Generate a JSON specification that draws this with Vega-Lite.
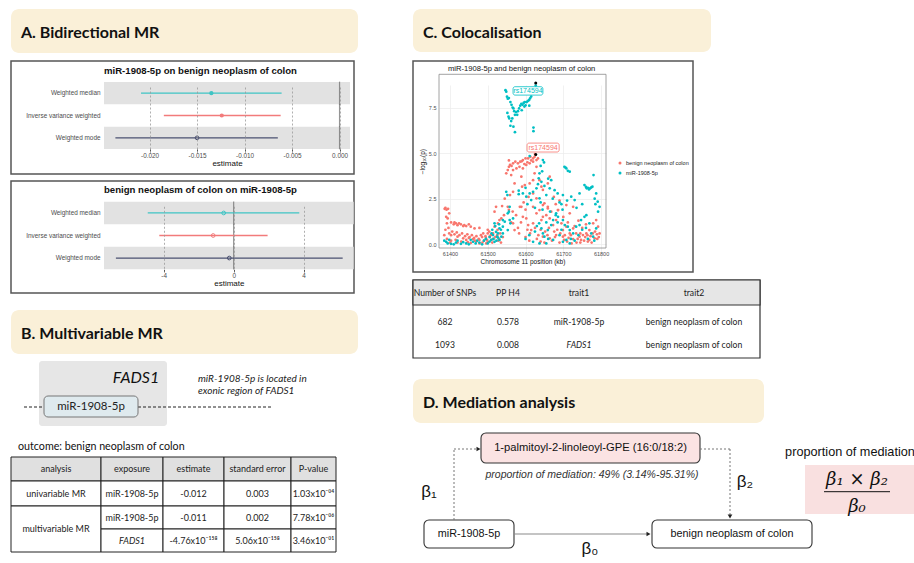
{
  "$schema": "https://vega.github.io/schema/vega-lite/v6.json",
  "background": "white",
  "padding": {"left": 10, "top": 9, "right": 0, "bottom": 0},
  "config": {"view": {"stroke": null}, "text": {"font": "Liberation Sans"}},
  "datasets": {
    "benign": [
      {"kb":61549,"p":3.89},{"kb":61553,"p":4.07},{"kb":61556,"p":4.25},{"kb":61559,"p":4.35},{"kb":61567,"p":4.44},{"kb":61573,"p":4.53},{"kb":61580,"p":4.44},{"kb":61586,"p":4.53},{"kb":61593,"p":4.62},{"kb":61600,"p":4.71},{"kb":61607,"p":4.71},{"kb":61613,"p":4.8},{"kb":61620,"p":4.71},{"kb":61624,"p":4.8},{"kb":61629,"p":4.62},{"kb":61633,"p":4.71},{"kb":61620,"p":4.53},{"kb":61611,"p":4.44},{"kb":61602,"p":4.35},{"kb":61593,"p":4.16},{"kb":61584,"p":4.25},{"kb":61576,"p":4.16},{"kb":61567,"p":4.07},{"kb":61562,"p":3.8},{"kb":61571,"p":3.34},{"kb":61567,"p":2.88},{"kb":61559,"p":2.7},{"kb":61589,"p":3.71},{"kb":61591,"p":3.16},{"kb":61598,"p":3.25},{"kb":61611,"p":3.34},{"kb":61620,"p":3.52},{"kb":61624,"p":3.89},{"kb":61629,"p":4.25},{"kb":61637,"p":3.52},{"kb":61642,"p":3.16},{"kb":61646,"p":2.98},{"kb":61659,"p":3.34},{"kb":61664,"p":3.71},{"kb":61620,"p":2.79},{"kb":61629,"p":2.52},{"kb":61650,"p":2.25},{"kb":61659,"p":2.06},{"kb":61556,"p":4.6},{"kb":61563,"p":4.3},{"kb":61590,"p":4.55},{"kb":61597,"p":4.4},{"kb":61605,"p":4.5},{"kb":61615,"p":4.6},{"kb":61625,"p":4.95},
      {"kb":61538,"p":2.1},{"kb":61545,"p":2.5},{"kb":61390,"p":1.51},{"kb":61394,"p":1.42},{"kb":61398,"p":1.7},{"kb":61392,"p":1.15},{"kb":61403,"p":1.2},{"kb":61416,"p":1.15},{"kb":61429,"p":1.1},{"kb":61443,"p":1.0},{"kb":61455,"p":0.97},{"kb":61465,"p":0.87},{"kb":61478,"p":0.9},{"kb":61500,"p":0.8},{"kb":61500,"p":0.6},{"kb":61518,"p":0.97},{"kb":61527,"p":1.15},{"kb":61531,"p":1.33},{"kb":61518,"p":1.79},{"kb":61522,"p":2.06},{"kb":61536,"p":1.42},{"kb":61543,"p":1.6},{"kb":61553,"p":2.06},{"kb":61556,"p":1.89},{"kb":61567,"p":1.15},{"kb":61571,"p":0.78},{"kb":61398,"p":0.6},{"kb":61403,"p":0.5},{"kb":61420,"p":0.42},{"kb":61435,"p":0.33},{"kb":61443,"p":0.24},{"kb":61461,"p":0.28},{"kb":61470,"p":0.15},{"kb":61478,"p":0.24},{"kb":61490,"p":0.2},{"kb":61505,"p":0.42},{"kb":61515,"p":0.3},{"kb":61403,"p":0.2},{"kb":61420,"p":0.1},{"kb":61447,"p":0.12},{"kb":61478,"p":0.05},{"kb":61500,"p":0.14},{"kb":61386,"p":1.95},{"kb":61388,"p":2.0},{"kb":61391,"p":1.9},{"kb":61395,"p":1.95},{"kb":61385,"p":0.5},{"kb":61410,"p":1.1},{"kb":61420,"p":1.05},{"kb":61435,"p":1.0},{"kb":61450,"p":0.35},{"kb":61485,"p":0.4},{"kb":61495,"p":0.35},{"kb":61510,"p":0.25},{"kb":61525,"p":0.5},{"kb":61530,"p":0.3},
      {"kb":61388,"p":0.8},{"kb":61396,"p":0.9},{"kb":61406,"p":0.7},{"kb":61412,"p":0.55},{"kb":61418,"p":0.65},{"kb":61425,"p":0.5},{"kb":61432,"p":0.6},{"kb":61440,"p":0.45},{"kb":61446,"p":0.55},{"kb":61452,"p":0.4},{"kb":61458,"p":0.5},{"kb":61464,"p":0.35},{"kb":61470,"p":0.45},{"kb":61476,"p":0.3},{"kb":61482,"p":0.5},{"kb":61488,"p":0.6},{"kb":61494,"p":0.45},{"kb":61498,"p":0.25},{"kb":61504,"p":0.7},{"kb":61508,"p":0.5},{"kb":61514,"p":0.6},{"kb":61520,"p":0.4},{"kb":61526,"p":0.8},{"kb":61533,"p":0.6},{"kb":61412,"p":1.2},{"kb":61424,"p":1.15},{"kb":61438,"p":1.05},{"kb":61450,"p":1.1},{"kb":61392,"p":0.3},{"kb":61400,"p":0.1},{"kb":61415,"p":0.25},{"kb":61430,"p":0.15},{"kb":61455,"p":0.08},{"kb":61466,"p":0.2},{"kb":61486,"p":0.1},{"kb":61496,"p":0.05},{"kb":61512,"p":0.1},{"kb":61528,"p":0.2},{"kb":61535,"p":0.1},{"kb":61540,"p":0.4},
      {"kb":61589,"p":2.06},{"kb":61593,"p":1.51},{"kb":61602,"p":1.42},{"kb":61607,"p":1.06},{"kb":61615,"p":0.78},{"kb":61620,"p":1.15},{"kb":61629,"p":1.7},{"kb":61637,"p":1.88},{"kb":61642,"p":1.33},{"kb":61646,"p":1.51},{"kb":61655,"p":1.6},{"kb":61664,"p":1.42},{"kb":61668,"p":1.79},{"kb":61673,"p":1.06},{"kb":61681,"p":1.33},{"kb":61686,"p":1.88},{"kb":61695,"p":1.15},{"kb":61699,"p":0.78},{"kb":61708,"p":0.97},{"kb":61717,"p":0.6},{"kb":61726,"p":0.87},{"kb":61734,"p":0.6},{"kb":61743,"p":0.42},{"kb":61752,"p":0.51},{"kb":61761,"p":0.6},{"kb":61769,"p":0.78},{"kb":61779,"p":1.15},{"kb":61787,"p":1.33},{"kb":61792,"p":0.97},{"kb":61796,"p":0.6},{"kb":61646,"p":0.42},{"kb":61664,"p":0.33},{"kb":61681,"p":0.51},{"kb":61699,"p":0.42},{"kb":61726,"p":0.28},{"kb":61747,"p":0.24},{"kb":61769,"p":0.24},{"kb":61783,"p":0.33},{"kb":61585,"p":2.06},{"kb":61620,"p":2.06},{"kb":61646,"p":2.15},{"kb":61659,"p":1.97},{"kb":61686,"p":1.88},{"kb":61717,"p":1.7},{"kb":61726,"p":2.06},{"kb":61708,"p":2.15},{"kb":61600,"p":0.4},{"kb":61610,"p":0.2},{"kb":61630,"p":0.3},{"kb":61650,"p":0.1},{"kb":61670,"p":0.2},{"kb":61690,"p":0.1},{"kb":61710,"p":0.15},{"kb":61735,"p":0.1},{"kb":61755,"p":0.2},{"kb":61775,"p":0.1},{"kb":61790,"p":0.3},{"kb":61700,"p":1.5},{"kb":61712,"p":1.2},{"kb":61730,"p":1.0},{"kb":61740,"p":1.3},{"kb":61750,"p":0.9},{"kb":61760,"p":1.1},{"kb":61690,"p":2.4},{"kb":61680,"p":2.2},{"kb":61675,"p":2.6},{"kb":61600,"p":1.9},{"kb":61595,"p":2.3},{"kb":61608,"p":2.6},{"kb":61575,"p":1.6},{"kb":61580,"p":0.9},
      {"kb":61612,"p":0.6},{"kb":61625,"p":0.9},{"kb":61634,"p":0.5},{"kb":61640,"p":0.8},{"kb":61652,"p":0.7},{"kb":61658,"p":0.5},{"kb":61662,"p":0.9},{"kb":61676,"p":0.7},{"kb":61684,"p":0.8},{"kb":61692,"p":0.6},{"kb":61704,"p":0.5},{"kb":61714,"p":0.35},{"kb":61720,"p":0.5},{"kb":61738,"p":0.3},{"kb":61745,"p":0.6},{"kb":61758,"p":0.4},{"kb":61764,"p":0.5},{"kb":61772,"p":0.45},{"kb":61778,"p":0.6},{"kb":61784,"p":0.7},{"kb":61789,"p":0.55},{"kb":61794,"p":0.4},{"kb":61765,"p":0.15},{"kb":61745,"p":0.1},{"kb":61722,"p":0.05},{"kb":61702,"p":0.25},{"kb":61678,"p":0.4},{"kb":61640,"p":0.15},{"kb":61605,"p":0.8},{"kb":61588,"p":1.2},{"kb":61583,"p":0.6},{"kb":61562,"p":1.2},{"kb":61566,"p":1.8}
    ],
    "mir": [
      {"kb":61547,"p":8.45},{"kb":61549,"p":8.37},{"kb":61551,"p":8.09},{"kb":61553,"p":7.98},{"kb":61556,"p":8.02},{"kb":61560,"p":7.8},{"kb":61563,"p":7.65},{"kb":61566,"p":7.5},{"kb":61568,"p":7.45},{"kb":61570,"p":7.3},{"kb":61572,"p":7.1},{"kb":61575,"p":7.25},{"kb":61578,"p":7.1},{"kb":61580,"p":7.3},{"kb":61583,"p":7.45},{"kb":61586,"p":7.6},{"kb":61589,"p":7.7},{"kb":61592,"p":7.65},{"kb":61595,"p":7.75},{"kb":61598,"p":7.8},{"kb":61600,"p":7.62},{"kb":61603,"p":7.8},{"kb":61606,"p":7.85},{"kb":61609,"p":7.9},{"kb":61612,"p":8.0},{"kb":61615,"p":8.1},{"kb":61618,"p":8.3},{"kb":61620,"p":8.4},{"kb":61624,"p":8.55},{"kb":61627,"p":8.7},{"kb":61621,"p":6.4},{"kb":61621,"p":6.2},{"kb":61562,"p":6.76},{"kb":61560,"p":6.5},{"kb":61568,"p":6.45},{"kb":61572,"p":6.15},{"kb":61555,"p":7.0},{"kb":61552,"p":7.2},{"kb":61557,"p":6.9},{"kb":61565,"p":6.9},{"kb":61590,"p":7.35},{"kb":61597,"p":7.55},{"kb":61610,"p":7.6},
      {"kb":61611,"p":4.84},{"kb":61646,"p":4.62},{"kb":61649,"p":4.49},{"kb":61637,"p":3.89},{"kb":61635,"p":3.62},{"kb":61642,"p":3.43},{"kb":61629,"p":3.07},{"kb":61620,"p":2.88},{"kb":61611,"p":2.79},{"kb":61602,"p":2.61},{"kb":61615,"p":2.43},{"kb":61637,"p":2.52},{"kb":61655,"p":2.7},{"kb":61664,"p":3.07},{"kb":61668,"p":3.52},{"kb":61677,"p":2.97},{"kb":61685,"p":2.79},{"kb":61699,"p":2.7},{"kb":61703,"p":4.25},{"kb":61706,"p":4.2},{"kb":61708,"p":4.16},{"kb":61712,"p":4.03},{"kb":61717,"p":3.98},{"kb":61721,"p":2.61},{"kb":61730,"p":2.43},{"kb":61743,"p":2.79},{"kb":61756,"p":3.25},{"kb":61760,"p":3.15},{"kb":61762,"p":3.07},{"kb":61765,"p":3.1},{"kb":61768,"p":3.01},{"kb":61771,"p":3.07},{"kb":61774,"p":3.12},{"kb":61777,"p":3.16},{"kb":61780,"p":3.8},{"kb":61787,"p":2.79},{"kb":61791,"p":2.34},{"kb":61582,"p":2.94},{"kb":61582,"p":2.75},{"kb":61593,"p":2.79},{"kb":61549,"p":2.88},{"kb":61552,"p":2.7},{"kb":61558,"p":2.06},{"kb":61556,"p":1.79},{"kb":61567,"p":1.42},{"kb":61540,"p":1.33},{"kb":61531,"p":0.88},{"kb":61522,"p":0.69},{"kb":61518,"p":1.15},{"kb":61514,"p":0.51},{"kb":61509,"p":0.24},{"kb":61527,"p":0.37},{"kb":61505,"p":0.15},{"kb":61640,"p":4.3},{"kb":61644,"p":4.0},{"kb":61633,"p":3.3},{"kb":61650,"p":3.2},{"kb":61660,"p":3.6},{"kb":61672,"p":2.5},{"kb":61690,"p":2.3},{"kb":61695,"p":2.2},{"kb":61710,"p":2.4},{"kb":61735,"p":2.0},{"kb":61750,"p":2.2},{"kb":61783,"p":2.5},{"kb":61785,"p":2.2},{"kb":61600,"p":3.1},{"kb":61605,"p":2.2},{"kb":61625,"p":2.0},{"kb":61645,"p":1.9},{"kb":61665,"p":1.8},{"kb":61680,"p":1.6},{"kb":61698,"p":1.9},
      {"kb":61390,"p":0.14},{"kb":61394,"p":0.05},{"kb":61403,"p":0.03},{"kb":61416,"p":0.1},{"kb":61429,"p":0.03},{"kb":61443,"p":0.05},{"kb":61461,"p":0.14},{"kb":61478,"p":0.1},{"kb":61500,"p":0.05},{"kb":61518,"p":0.14},{"kb":61531,"p":0.24},{"kb":61536,"p":0.42},{"kb":61540,"p":0.6},{"kb":61540,"p":0.97},{"kb":61545,"p":1.24},{"kb":61527,"p":0.6},{"kb":61525,"p":0.42},{"kb":61553,"p":0.78},{"kb":61558,"p":1.33},{"kb":61560,"p":1.15},{"kb":61553,"p":1.7},{"kb":61636,"p":1.15},{"kb":61642,"p":0.87},{"kb":61646,"p":0.6},{"kb":61650,"p":0.42},{"kb":61659,"p":0.78},{"kb":61668,"p":1.06},{"kb":61673,"p":1.33},{"kb":61681,"p":1.7},{"kb":61686,"p":1.51},{"kb":61699,"p":1.33},{"kb":61704,"p":1.06},{"kb":61712,"p":0.97},{"kb":61717,"p":0.78},{"kb":61726,"p":0.6},{"kb":61734,"p":0.97},{"kb":61743,"p":1.06},{"kb":61747,"p":1.33},{"kb":61756,"p":1.51},{"kb":61761,"p":1.6},{"kb":61769,"p":1.15},{"kb":61774,"p":0.6},{"kb":61779,"p":0.42},{"kb":61787,"p":0.87},{"kb":61792,"p":1.79},{"kb":61796,"p":2.06},{"kb":61708,"p":0.24},{"kb":61717,"p":0.05},{"kb":61699,"p":0.14},{"kb":61673,"p":0.24},{"kb":61655,"p":0.05},{"kb":61637,"p":0.05},{"kb":61620,"p":0.14},{"kb":61385,"p":0.2},{"kb":61398,"p":0.25},{"kb":61410,"p":0.0},{"kb":61420,"p":0.2},{"kb":61435,"p":0.12},{"kb":61450,"p":0.0},{"kb":61455,"p":0.25},{"kb":61468,"p":0.05},{"kb":61472,"p":0.2},{"kb":61485,"p":0.0},{"kb":61490,"p":0.2},{"kb":61495,"p":0.3},{"kb":61505,"p":0.4},{"kb":61510,"p":0.6},{"kb":61512,"p":0.8},{"kb":61520,"p":1.0},{"kb":61530,"p":1.1},{"kb":61535,"p":0.8},{"kb":61515,"p":0.3},{"kb":61523,"p":0.2},{"kb":61600,"p":0.3},{"kb":61610,"p":0.5},{"kb":61625,"p":0.7},{"kb":61630,"p":1.0},{"kb":61660,"p":0.3},{"kb":61690,"p":0.5},{"kb":61695,"p":0.8},{"kb":61720,"p":0.3},{"kb":61730,"p":0.2},{"kb":61740,"p":0.5},{"kb":61750,"p":0.8},{"kb":61760,"p":0.9},{"kb":61765,"p":0.3},{"kb":61782,"p":0.2},{"kb":61640,"p":2.3},{"kb":61655,"p":1.2},{"kb":61685,"p":1.2}
    ]
  },
  "hconcat": [
    {
      "vconcat": [
        {
          "width": 347, "height": 44,
          "view": {"fill": "#faf0d8", "stroke": null, "cornerRadius": 8},
          "title": {"text": "A. Bidirectional MR", "anchor": "start", "frame": "group", "dx": 10, "offset": -32, "font": "Lato", "fontSize": 16, "fontWeight": "bold", "color": "#111"},
          "data": {"values": [{}]},
          "mark": {"type": "text"},
          "encoding": {"text": {"value": ""}}
        },
        {"width": 1, "height": 8, "data": {"values": []}, "mark": "point", "encoding": {}},
        {
          "width": 343, "height": 113,
          "view": {"stroke": "#555", "strokeWidth": 1.5},
          "title": {"text": "miR-1908-5p on benign neoplasm of colon", "anchor": "start", "frame": "group", "dx": 93, "offset": -15, "font": "Liberation Sans", "fontSize": 9.6, "fontWeight": "bold", "color": "#111"},
          "data": {"values": [
            {"method": "Weighted median", "b": -0.0135, "lo": -0.0209, "hi": -0.0061, "solid": true},
            {"method": "Inverse variance weighted", "b": -0.0124, "lo": -0.0185, "hi": -0.0062, "solid": true},
            {"method": "Weighted mode", "b": -0.015, "lo": -0.0236, "hi": -0.0065, "solid": false}
          ]},
          "encoding": {
            "y": {"field": "method", "type": "nominal", "sort": null,
              "scale": {"domain": ["Weighted median", "Inverse variance weighted", "Weighted mode"], "range": [21, 88], "paddingInner": 0, "paddingOuter": 0},
              "axis": {"title": null, "offset": -93, "domain": false, "ticks": false, "labelPadding": 4, "labelFontSize": 6.4, "labelFont": "Liberation Sans", "labelColor": "#4d4d4d", "grid": false, "labelLimit": 200}}
          },
          "layer": [
            {"transform": [{"filter": "datum.method != 'Inverse variance weighted'"}],
             "mark": {"type": "rect", "color": "#e2e2e2"},
             "encoding": {"x": {"datum": -0.0248, "type": "quantitative",
                "scale": {"domain": [-0.0248, 0.0011], "range": [93, 339], "nice": false, "zero": false},
                "axis": {"title": "estimate", "values": [-0.02, -0.015, -0.01, -0.005, 0], "labelExpr": "replace(format(datum.value, '.3f'), '\u2212', '-')", "offset": -25, "domain": false, "tickSize": 2, "tickColor": "#555", "labelFontSize": 6.4, "labelFont": "Liberation Sans", "labelColor": "#4d4d4d", "labelPadding": 1, "titleFont": "Liberation Sans", "titleFontSize": 8, "titleFontWeight": "normal", "titlePadding": 1, "titleColor": "#111", "grid": true, "gridDash": [2, 2], "gridColor": "#9a9a9a", "gridWidth": 0.8, "zindex": 1}},
              "x2": {"datum": 0.0011}}},
            {"mark": {"type": "tick", "orient": "vertical", "thickness": 1.2, "size": 23, "color": "#666"},
             "encoding": {"x": {"datum": 0, "type": "quantitative"}}},
            {"mark": {"type": "rule", "strokeWidth": 1.3},
             "encoding": {"x": {"field": "lo", "type": "quantitative"}, "x2": {"field": "hi"},
               "color": {"field": "method", "type": "nominal", "scale": {"domain": ["Weighted median", "Inverse variance weighted", "Weighted mode"], "range": ["#3fc4c4", "#f27b7b", "#4a5070"]}, "legend": null}}},
            {"transform": [{"filter": "datum.solid"}],
             "mark": {"type": "point", "filled": true, "size": 18, "opacity": 1},
             "encoding": {"x": {"field": "b", "type": "quantitative"}, "color": {"field": "method", "type": "nominal", "legend": null}}},
            {"transform": [{"filter": "!datum.solid"}],
             "mark": {"type": "point", "filled": false, "size": 14, "strokeWidth": 1, "opacity": 1},
             "encoding": {"x": {"field": "b", "type": "quantitative"}, "color": {"field": "method", "type": "nominal", "legend": null}}}
          ]
        },
        {"width": 1, "height": 7, "data": {"values": []}, "mark": "point", "encoding": {}},
        {
          "width": 343, "height": 112,
          "view": {"stroke": "#555", "strokeWidth": 1.5},
          "title": {"text": "benign neoplasm of colon on miR-1908-5p", "anchor": "start", "frame": "group", "dx": 93, "offset": -14, "font": "Liberation Sans", "fontSize": 9.6, "fontWeight": "bold", "color": "#111"},
          "data": {"values": [
            {"method": "Weighted median", "b": -0.57, "lo": -4.91, "hi": 3.75},
            {"method": "Inverse variance weighted", "b": -1.17, "lo": -4.25, "hi": 1.94},
            {"method": "Weighted mode", "b": -0.25, "lo": -6.73, "hi": 6.23}
          ]},
          "encoding": {
            "y": {"field": "method", "type": "nominal", "sort": null,
              "scale": {"domain": ["Weighted median", "Inverse variance weighted", "Weighted mode"], "range": [20.7, 88.3], "paddingInner": 0, "paddingOuter": 0},
              "axis": {"title": null, "offset": -93, "domain": false, "ticks": false, "labelPadding": 4, "labelFontSize": 6.4, "labelFont": "Liberation Sans", "labelColor": "#4d4d4d", "grid": false, "labelLimit": 200}}
          },
          "layer": [
            {"transform": [{"filter": "datum.method != 'Inverse variance weighted'"}],
             "mark": {"type": "rect", "color": "#e2e2e2"},
             "encoding": {"x": {"datum": -7.41, "type": "quantitative",
                "scale": {"domain": [-7.41, 6.86], "range": [93, 342.7], "nice": false, "zero": false},
                "axis": {"title": "estimate", "values": [-4, 0, 4], "labelExpr": "replace(format(datum.value, 'd'), '\u2212', '-')", "offset": -23.7, "domain": false, "tickSize": 2, "tickColor": "#555", "labelFontSize": 6.4, "labelFont": "Liberation Sans", "labelColor": "#4d4d4d", "labelPadding": 1, "titleFont": "Liberation Sans", "titleFontSize": 8, "titleFontWeight": "normal", "titlePadding": 1, "titleColor": "#111", "grid": true, "gridDash": [2, 2], "gridColor": "#9a9a9a", "gridWidth": 0.8, "zindex": 1}},
              "x2": {"datum": 6.86}}},
            {"mark": {"type": "tick", "orient": "vertical", "thickness": 1.2, "size": 23, "color": "#666"},
             "encoding": {"x": {"datum": 0, "type": "quantitative"}}},
            {"mark": {"type": "rule", "strokeWidth": 1.3},
             "encoding": {"x": {"field": "lo", "type": "quantitative"}, "x2": {"field": "hi"},
               "color": {"field": "method", "type": "nominal", "scale": {"domain": ["Weighted median", "Inverse variance weighted", "Weighted mode"], "range": ["#3fc4c4", "#f27b7b", "#4a5070"]}, "legend": null}}},
            {"mark": {"type": "point", "filled": false, "size": 14, "strokeWidth": 1, "opacity": 1},
             "encoding": {"x": {"field": "b", "type": "quantitative"}, "color": {"field": "method", "type": "nominal", "legend": null}}}
          ]
        },
        {"width": 1, "height": 17, "data": {"values": []}, "mark": "point", "encoding": {}},
        {
          "width": 347, "height": 44,
          "view": {"fill": "#faf0d8", "stroke": null, "cornerRadius": 8},
          "title": {"text": "B. Multivariable MR", "anchor": "start", "frame": "group", "dx": 10, "offset": -32, "font": "Lato", "fontSize": 16, "fontWeight": "bold", "color": "#111"},
          "data": {"values": [{}]},
          "mark": {"type": "text"},
          "encoding": {"text": {"value": ""}}
        },
        {
          "width": 347, "height": 198,
          "encoding": {
            "x": {"field": "x", "type": "quantitative", "scale": {"domain": [0, 347], "nice": false, "zero": false}, "axis": null},
            "y": {"field": "y", "type": "quantitative", "scale": {"domain": [0, 198], "reverse": true, "nice": false, "zero": false}, "axis": null}
          },
          "layer": [
            {"data": {"values": [{"x": 28, "x2": 156, "y": 7, "y2": 72}]},
             "mark": {"type": "rect", "fill": "#e6e6e6", "cornerRadius": 3},
             "encoding": {"x2": {"field": "x2"}, "y2": {"field": "y2"}}},
            {"data": {"values": [{"x": 13, "x2": 33, "y": 53, "y2": 53}, {"x": 127, "x2": 262, "y": 53, "y2": 53}]},
             "mark": {"type": "rule", "color": "#222", "strokeWidth": 1, "strokeDash": [3, 2]},
             "encoding": {"x2": {"field": "x2"}, "y2": {"field": "y2"}}},
            {"data": {"values": [{"x": 33, "x2": 127, "y": 42, "y2": 63}]},
             "mark": {"type": "rect", "fill": "#dfeaee", "stroke": "#777", "strokeWidth": 1, "cornerRadius": 4},
             "encoding": {"x2": {"field": "x2"}, "y2": {"field": "y2"}}},
            {"data": {"values": [{"x": 125, "y": 24, "t": "FADS1"}]},
             "mark": {"type": "text", "font": "Lato", "fontStyle": "italic", "fontSize": 16, "color": "#111"},
             "encoding": {"text": {"field": "t"}}},
            {"data": {"values": [{"x": 80, "y": 52.5, "t": "miR-1908-5p"}]},
             "mark": {"type": "text", "font": "Lato", "fontSize": 11.5, "color": "#222"},
             "encoding": {"text": {"field": "t"}}},
            {"data": {"values": [{"x": 187, "y": 25, "t": "miR-1908-5p is located in"}, {"x": 187, "y": 37, "t": "exonic region of FADS1"}]},
             "mark": {"type": "text", "font": "Lato", "fontStyle": "italic", "fontSize": 10, "align": "left", "color": "#222"},
             "encoding": {"text": {"field": "t"}}},
            {"data": {"values": [{"x": 7, "y": 93, "t": "outcome: benign neoplasm of colon"}]},
             "mark": {"type": "text", "font": "Lato", "fontSize": 10.7, "align": "left", "color": "#111"},
             "encoding": {"text": {"field": "t"}}},
            {"data": {"values": [
               {"x": 0, "x2": 90, "y": 103, "y2": 127}, {"x": 90, "x2": 152, "y": 103, "y2": 127}, {"x": 152, "x2": 213, "y": 103, "y2": 127}, {"x": 213, "x2": 280, "y": 103, "y2": 127}, {"x": 280, "x2": 325, "y": 103, "y2": 127}]},
             "mark": {"type": "rect", "fill": "#e0e0e0", "stroke": "#222", "strokeWidth": 1},
             "encoding": {"x2": {"field": "x2"}, "y2": {"field": "y2"}}},
            {"data": {"values": [
               {"x": 0, "x2": 90, "y": 127, "y2": 152}, {"x": 90, "x2": 152, "y": 127, "y2": 152}, {"x": 152, "x2": 213, "y": 127, "y2": 152}, {"x": 213, "x2": 280, "y": 127, "y2": 152}, {"x": 280, "x2": 325, "y": 127, "y2": 152},
               {"x": 0, "x2": 90, "y": 152, "y2": 198},
               {"x": 90, "x2": 152, "y": 152, "y2": 175}, {"x": 152, "x2": 213, "y": 152, "y2": 175}, {"x": 213, "x2": 280, "y": 152, "y2": 175}, {"x": 280, "x2": 325, "y": 152, "y2": 175},
               {"x": 90, "x2": 152, "y": 175, "y2": 198}, {"x": 152, "x2": 213, "y": 175, "y2": 198}, {"x": 213, "x2": 280, "y": 175, "y2": 198}, {"x": 280, "x2": 325, "y": 175, "y2": 198}]},
             "mark": {"type": "rect", "fill": "white", "stroke": "#222", "strokeWidth": 1},
             "encoding": {"x2": {"field": "x2"}, "y2": {"field": "y2"}}},
            {"data": {"values": [
               {"x": 45, "y": 115, "t": "analysis"}, {"x": 121, "y": 115, "t": "exposure"}, {"x": 182.5, "y": 115, "t": "estimate"}, {"x": 246.5, "y": 115, "t": "standard error"}, {"x": 302.5, "y": 115, "t": "P-value"},
               {"x": 45, "y": 139.5, "t": "univariable MR"}, {"x": 121, "y": 139.5, "t": "miR-1908-5p"}, {"x": 182.5, "y": 139.5, "t": "-0.012"}, {"x": 246.5, "y": 139.5, "t": "0.003"}, {"x": 302.5, "y": 139.5, "t": "1.03x10\u207b\u2070\u2074"},
               {"x": 45, "y": 175, "t": "multivariable MR"},
               {"x": 121, "y": 163.5, "t": "miR-1908-5p"}, {"x": 182.5, "y": 163.5, "t": "-0.011"}, {"x": 246.5, "y": 163.5, "t": "0.002"}, {"x": 302.5, "y": 163.5, "t": "7.78x10\u207b\u2070\u2076"},
               {"x": 182.5, "y": 186.5, "t": "-4.76x10\u207b\u00b9\u2075\u2078"}, {"x": 246.5, "y": 186.5, "t": "5.06x10\u207b\u00b9\u2075\u2078"}, {"x": 302.5, "y": 186.5, "t": "3.46x10\u207b\u2070\u00b9"}]},
             "mark": {"type": "text", "font": "Lato", "fontSize": 9, "color": "#222"},
             "encoding": {"text": {"field": "t"}}},
            {"data": {"values": [{"x": 121, "y": 186.5, "t": "FADS1"}]},
             "mark": {"type": "text", "font": "Lato", "fontStyle": "italic", "fontSize": 9, "color": "#222"},
             "encoding": {"text": {"field": "t"}}}
          ]
        }
      ],
      "spacing": 0, "bounds": "flush"
    },
    {
      "vconcat": [
        {
          "width": 298, "height": 43,
          "view": {"fill": "#faf0d8", "stroke": null, "cornerRadius": 8},
          "title": {"text": "C. Colocalisation", "anchor": "start", "frame": "group", "dx": 10, "offset": -32, "font": "Lato", "fontSize": 16, "fontWeight": "bold", "color": "#111"},
          "data": {"values": [{}]},
          "mark": {"type": "text"},
          "encoding": {"text": {"value": ""}}
        },
        {"width": 1, "height": 9, "data": {"values": []}, "mark": "point", "encoding": {}},
        {
          "width": 280, "height": 211,
          "view": {"stroke": "#555", "strokeWidth": 1.5},
          "title": {"text": "miR-1908-5p and benign neoplasm of colon", "anchor": "start", "frame": "group", "dx": 35, "offset": -11.5, "font": "Liberation Sans", "fontSize": 7.6, "fontWeight": "normal", "color": "#111"},
          "layer": [
            {"data": {"values": [{"kb": 61371, "kb2": 61813, "p": -0.2, "p2": 9.32}]},
             "mark": {"type": "rect", "fill": null, "stroke": "#8a8a8a", "strokeWidth": 0.8},
             "encoding": {
               "x": {"field": "kb", "type": "quantitative",
                 "scale": {"domain": [61371, 61813], "range": [26, 193], "nice": false, "zero": false},
                 "axis": {"title": "Chromosome 11 position (kb)", "values": [61400, 61450, 61500, 61550, 61600, 61650, 61700, 61750, 61800], "labelExpr": "datum.value % 100 === 0 ? datum.value : ''", "offset": -24, "domain": false, "ticks": false, "labelFontSize": 5.5, "labelFont": "Liberation Sans", "labelColor": "#4d4d4d", "labelPadding": 3, "titleFont": "Liberation Sans", "titleFontSize": 6.5, "titleFontWeight": "normal", "titlePadding": 2, "titleColor": "#111", "grid": true, "gridColor": "#ebebeb", "gridWidth": 0.7}},
               "x2": {"field": "kb2"},
               "y": {"field": "p", "type": "quantitative",
                 "scale": {"domain": [-0.2, 9.32], "range": [187, 13.3], "nice": false, "zero": false},
                 "axis": {"title": "\u2212log\u2081\u2080(p)", "values": [0, 1.25, 2.5, 3.75, 5, 6.25, 7.5, 8.75], "labelExpr": "datum.value % 2.5 === 0 ? format(datum.value, '.1f') : ''", "offset": -26, "domain": false, "ticks": false, "labelFontSize": 5.5, "labelFont": "Liberation Sans", "labelColor": "#4d4d4d", "labelPadding": 3, "titleFont": "Liberation Sans", "titleFontSize": 6.5, "titleFontWeight": "normal", "titlePadding": 3, "titleColor": "#111", "grid": true, "gridColor": "#ebebeb", "gridWidth": 0.7}},
               "y2": {"field": "p2"}}},
            {"data": {"name": "benign"},
             "mark": {"type": "circle", "size": 7.5, "opacity": 1, "color": "#F8766D"},
             "encoding": {"x": {"field": "kb", "type": "quantitative"}, "y": {"field": "p", "type": "quantitative"}}},
            {"data": {"name": "mir"},
             "mark": {"type": "circle", "size": 7.5, "opacity": 1, "color": "#00BFC4"},
             "encoding": {"x": {"field": "kb", "type": "quantitative"}, "y": {"field": "p", "type": "quantitative"}}},
            {"data": {"values": [{"kb": 61627, "p": 8.85}, {"kb": 61627, "p": 4.92}]},
             "mark": {"type": "circle", "size": 9, "color": "black", "opacity": 1},
             "encoding": {"x": {"field": "kb", "type": "quantitative"}, "y": {"field": "p", "type": "quantitative"}}},
            {"data": {"values": [
               {"trait": "miR-1908-5p", "kb": 61567, "kb2": 61646, "p": 8.18, "p2": 8.64},
               {"trait": "benign neoplasm of colon", "kb": 61604, "kb2": 61689, "p": 5.06, "p2": 5.55}]},
             "mark": {"type": "rect", "fill": "white", "strokeWidth": 0.8, "cornerRadius": 2},
             "encoding": {"x": {"field": "kb", "type": "quantitative"}, "x2": {"field": "kb2"}, "y": {"field": "p", "type": "quantitative"}, "y2": {"field": "p2"},
               "stroke": {"field": "trait", "type": "nominal", "scale": {"domain": ["benign neoplasm of colon", "miR-1908-5p"], "range": ["#F8766D", "#00BFC4"]}, "legend": null}}},
            {"data": {"values": [
               {"trait": "miR-1908-5p", "kb": 61606.5, "p": 8.41, "t": "rs174594"},
               {"trait": "benign neoplasm of colon", "kb": 61646.5, "p": 5.3, "t": "rs174594"}]},
             "mark": {"type": "text", "font": "Liberation Sans", "fontSize": 7},
             "encoding": {"x": {"field": "kb", "type": "quantitative"}, "y": {"field": "p", "type": "quantitative"}, "text": {"field": "t"},
               "fill": {"field": "trait", "type": "nominal", "scale": {"domain": ["benign neoplasm of colon", "miR-1908-5p"], "range": ["#F8766D", "#00BFC4"]}, "legend": null}}},
            {"data": {"values": [{"trait": "benign neoplasm of colon", "kb": 61850, "p": 4.46}, {"trait": "miR-1908-5p", "kb": 61850, "p": 3.91}]},
             "mark": {"type": "circle", "size": 9, "opacity": 1},
             "encoding": {"x": {"field": "kb", "type": "quantitative"}, "y": {"field": "p", "type": "quantitative"},
               "fill": {"field": "trait", "type": "nominal", "legend": null}}},
            {"data": {"values": [{"trait": "benign neoplasm of colon", "kb": 61866, "p": 4.46}, {"trait": "miR-1908-5p", "kb": 61866, "p": 3.91}]},
             "mark": {"type": "text", "font": "Liberation Sans", "fontSize": 5.5, "align": "left", "color": "#222"},
             "encoding": {"x": {"field": "kb", "type": "quantitative"}, "y": {"field": "p", "type": "quantitative"}, "text": {"field": "trait"}}}
          ]
        },
        {"width": 1, "height": 8, "data": {"values": []}, "mark": "point", "encoding": {}},
        {
          "width": 347, "height": 78,
          "encoding": {
            "x": {"field": "x", "type": "quantitative", "scale": {"domain": [0, 347], "nice": false, "zero": false}, "axis": null},
            "y": {"field": "y", "type": "quantitative", "scale": {"domain": [0, 78], "reverse": true, "nice": false, "zero": false}, "axis": null}
          },
          "layer": [
            {"data": {"values": [{"x": 0, "x2": 347, "y": 0, "y2": 78}]},
             "mark": {"type": "rect", "fill": "white", "stroke": "#333", "strokeWidth": 1.2},
             "encoding": {"x2": {"field": "x2"}, "y2": {"field": "y2"}}},
            {"data": {"values": [{"x": 0, "x2": 347, "y": 0, "y2": 25}]},
             "mark": {"type": "rect", "fill": "#e6e6e6", "stroke": "#333", "strokeWidth": 1.2},
             "encoding": {"x2": {"field": "x2"}, "y2": {"field": "y2"}}},
            {"data": {"values": [
               {"x": 32, "y": 12.5, "t": "Number of SNPs"}, {"x": 95, "y": 12.5, "t": "PP H4"}, {"x": 166, "y": 12.5, "t": "trait1"}, {"x": 281, "y": 12.5, "t": "trait2"},
               {"x": 32, "y": 42, "t": "682"}, {"x": 95, "y": 42, "t": "0.578"}, {"x": 166, "y": 42, "t": "miR-1908-5p"}, {"x": 281, "y": 42, "t": "benign neoplasm of colon"},
               {"x": 32, "y": 65, "t": "1093"}, {"x": 95, "y": 65, "t": "0.008"}, {"x": 281, "y": 65, "t": "benign neoplasm of colon"}]},
             "mark": {"type": "text", "font": "Lato", "fontSize": 8.6, "color": "#222"},
             "encoding": {"text": {"field": "t"}}},
            {"data": {"values": [{"x": 166, "y": 65, "t": "FADS1"}]},
             "mark": {"type": "text", "font": "Lato", "fontStyle": "italic", "fontSize": 8.6, "color": "#222"},
             "encoding": {"text": {"field": "t"}}}
          ]
        },
        {"width": 1, "height": 21, "data": {"values": []}, "mark": "point", "encoding": {}},
        {
          "width": 351, "height": 44,
          "view": {"fill": "#faf0d8", "stroke": null, "cornerRadius": 8},
          "title": {"text": "D. Mediation analysis", "anchor": "start", "frame": "group", "dx": 10, "offset": -32, "font": "Lato", "fontSize": 16, "fontWeight": "bold", "color": "#111"},
          "data": {"values": [{}]},
          "mark": {"type": "text"},
          "encoding": {"text": {"value": ""}}
        },
        {
          "width": 503, "height": 140,
          "encoding": {
            "x": {"field": "x", "type": "quantitative", "scale": {"domain": [0, 503], "nice": false, "zero": false}, "axis": null},
            "y": {"field": "y", "type": "quantitative", "scale": {"domain": [0, 140], "reverse": true, "nice": false, "zero": false}, "axis": null}
          },
          "layer": [
            {"data": {"values": [{"x": 392, "x2": 503, "y": 42, "y2": 91}]},
             "mark": {"type": "rect", "fill": "#f9e0e0"},
             "encoding": {"x2": {"field": "x2"}, "y2": {"field": "y2"}}},
            {"data": {"values": [{"x": 68, "x2": 287, "y": 10, "y2": 40}]},
             "mark": {"type": "rect", "fill": "#fbe3e3", "stroke": "#333", "strokeWidth": 1.1, "cornerRadius": 5},
             "encoding": {"x2": {"field": "x2"}, "y2": {"field": "y2"}}},
            {"data": {"values": [{"x": 11, "x2": 101, "y": 97, "y2": 125}, {"x": 239, "x2": 399, "y": 97, "y2": 125}]},
             "mark": {"type": "rect", "fill": "white", "stroke": "#333", "strokeWidth": 1.1, "cornerRadius": 5},
             "encoding": {"x2": {"field": "x2"}, "y2": {"field": "y2"}}},
            {"data": {"values": [{"x": 101, "x2": 235, "y": 111, "y2": 111}]},
             "mark": {"type": "rule", "color": "#8a8a8a", "strokeWidth": 1.2},
             "encoding": {"x2": {"field": "x2"}, "y2": {"field": "y2"}}},
            {"data": {"values": [{"x": 41, "x2": 41, "y": 97, "y2": 26}, {"x": 41, "x2": 64, "y": 26, "y2": 26}, {"x": 287, "x2": 317, "y": 26, "y2": 26}, {"x": 317, "x2": 317, "y": 26, "y2": 92}]},
             "mark": {"type": "rule", "color": "#777", "strokeWidth": 1, "strokeDash": [2, 2]},
             "encoding": {"x2": {"field": "x2"}, "y2": {"field": "y2"}}},
            {"data": {"values": [{"x": 235.5, "y": 111}, {"x": 65.5, "y": 26}]},
             "mark": {"type": "point", "shape": "triangle-right", "filled": true, "size": 22, "color": "#222", "opacity": 1}},
            {"data": {"values": [{"x": 317, "y": 93.5}]},
             "mark": {"type": "point", "shape": "triangle-down", "filled": true, "size": 22, "color": "#222", "opacity": 1}},
            {"data": {"values": [{"x": 411, "x2": 477, "y": 68.7, "y2": 68.7}]},
             "mark": {"type": "rule", "color": "#111", "strokeWidth": 1},
             "encoding": {"x2": {"field": "x2"}, "y2": {"field": "y2"}}},
            {"data": {"values": [{"x": 177.5, "y": 25, "t": "1-palmitoyl-2-linoleoyl-GPE (16:0/18:2)"}]},
             "mark": {"type": "text", "font": "Liberation Sans", "fontSize": 11.2, "color": "#111"},
             "encoding": {"text": {"field": "t"}}},
            {"data": {"values": [{"x": 179, "y": 52, "t": "proportion of mediation: 49% (3.14%-95.31%)"}]},
             "mark": {"type": "text", "font": "Liberation Sans", "fontStyle": "italic", "fontSize": 10.5, "color": "#333"},
             "encoding": {"text": {"field": "t"}}},
            {"data": {"values": [{"x": 56, "y": 111, "t": "miR-1908-5p"}, {"x": 319, "y": 111, "t": "benign neoplasm of colon"}]},
             "mark": {"type": "text", "font": "Liberation Sans", "fontSize": 10.8, "color": "#111"},
             "encoding": {"text": {"field": "t"}}},
            {"data": {"values": [{"x": 16, "y": 69, "t": "\u03b2\u2081"}, {"x": 332, "y": 59, "t": "\u03b2\u2082"}, {"x": 177, "y": 126, "t": "\u03b2\u2080"}]},
             "mark": {"type": "text", "font": "Liberation Sans", "fontSize": 17, "color": "#111"},
             "encoding": {"text": {"field": "t"}}},
            {"data": {"values": [{"x": 437, "y": 29, "t": "proportion of mediation"}]},
             "mark": {"type": "text", "font": "Liberation Sans", "fontSize": 12.7, "color": "#111"},
             "encoding": {"text": {"field": "t"}}},
            {"data": {"values": [{"x": 444, "y": 57, "t": "\u03b2\u2081 \u00d7 \u03b2\u2082"}, {"x": 444, "y": 83.5, "t": "\u03b2\u2080"}]},
             "mark": {"type": "text", "font": "DejaVu Serif", "fontStyle": "italic", "fontSize": 18, "color": "#111"},
             "encoding": {"text": {"field": "t"}}}
          ]
        }
      ],
      "spacing": 0, "bounds": "flush"
    }
  ],
  "spacing": 54
}
